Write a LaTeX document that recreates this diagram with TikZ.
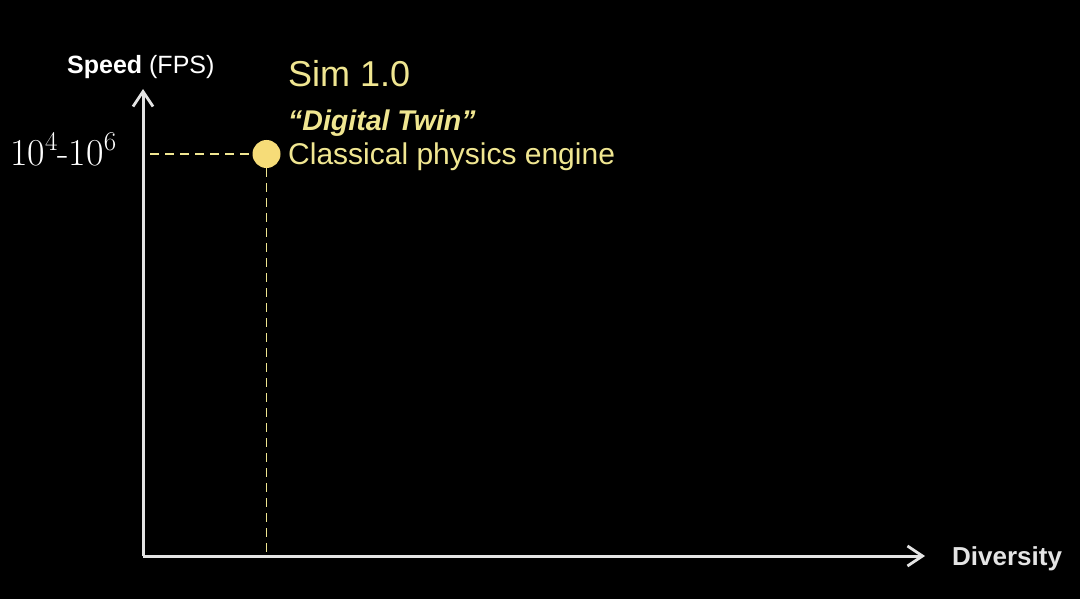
\documentclass[tikz,border=0pt]{standalone}
\usepackage{fontspec}
\setmainfont{Liberation Sans}
\newfontfamily\lmserif{Latin Modern Roman}
\usetikzlibrary{arrows.meta}
\definecolor{dotyellow}{RGB}{246,220,120}
\definecolor{txtyellow}{RGB}{240,230,145}
\definecolor{axisgray}{RGB}{228,228,228}
\tikzset{
  axisline/.style={draw=axisgray, line width=3pt, -{Straight Barb[length=15pt,width=20pt,line width=2.8pt]}},
  guide/.style={draw=txtyellow, line width=1.4pt, dash pattern=on 9pt off 6pt},
  lbl/.style={inner sep=0pt, anchor=base west},
}
\newcommand{\supfig}[1]{\raisebox{0.42em}{\fontsize{27}{27}\selectfont #1}}
\begin{document}
\begin{tikzpicture}[x=1pt,y=-1pt]
\useasboundingbox[fill=black] (0,0) rectangle (1080,599);
\coordinate (o) at (143,556);
\coordinate (ytop) at (143,89);
\coordinate (xend) at (925,556);
\coordinate (hstart) at (150,154);
\coordinate (vend) at (266.5,556);
\draw[axisline] (o) -- (ytop);
\draw[axisline] (o) -- (xend);
\node[circle, fill=dotyellow, minimum size=28pt, inner sep=0pt] (dot) at (266.5,154) {};
\draw[guide] (hstart) -- (dot.west);
\draw[guide] (dot.south) -- (vend);
\node[lbl, text=white, font=\fontsize{25}{28}\selectfont] (speed) at (67,74) {\textbf{Speed} (FPS)};
\node[lbl, text=txtyellow, font=\fontsize{36}{40}\selectfont] (sim) at (288,87) {Sim 1.0};
\node[lbl, text=txtyellow, font=\fontsize{28.5}{32}\selectfont\bfseries\itshape] (twin) at (288,131) {“Digital Twin”};
\node[lbl, text=txtyellow, font=\fontsize{30}{34}\selectfont] (engine) at (288,165) {Classical physics engine};
\node[lbl, text=white, font=\fontsize{38}{42}\selectfont\lmserif] (range) at (10,166) {10\supfig{4}-10\supfig{6}};
\node[lbl, text=axisgray, font=\fontsize{26}{30}\selectfont\bfseries] (div) at (952,565) {Diversity};
\end{tikzpicture}
\end{document}
